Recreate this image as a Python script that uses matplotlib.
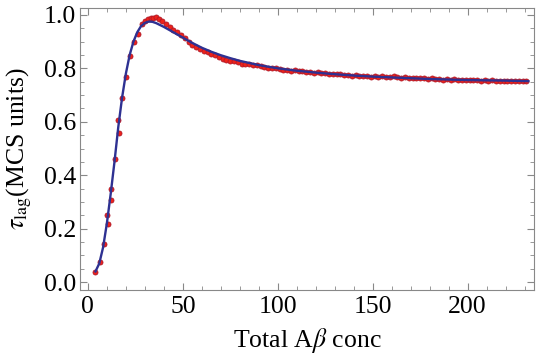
import numpy as np
import matplotlib
matplotlib.use('Agg')
import matplotlib.pyplot as plt
from matplotlib.ticker import MultipleLocator

plt.rcParams['font.family'] = ['Liberation Serif', 'DejaVu Serif']
plt.rcParams['mathtext.fontset'] = 'stix'

# simulation points (red dots)
dot_x_early = [4, 6.5, 8.5, 10, 10.5, 12, 12.2, 14.3, 16, 16.5, 18, 20.3, 22.3,
               24.2, 26.2, 28.3, 30.2, 31.5, 33, 34.5, 36, 37.5, 39]
dot_y_early = [0.037, 0.074, 0.142, 0.25, 0.217, 0.35, 0.307, 0.46, 0.607, 0.558,
               0.688, 0.767, 0.846, 0.90, 0.93, 0.965, 0.978, 0.983, 0.987, 0.99,
               0.993, 0.985, 0.977]
dot_x_late = list(range(41, 232, 2))
dot_y_late = [0.965, 0.956, 0.945, 0.936, 0.925, 0.912, 0.900, 0.889, 0.880, 0.872,
              0.866, 0.860, 0.853, 0.848, 0.842, 0.836, 0.831, 0.829, 0.826, 0.822,
              0.818, 0.818, 0.815, 0.812, 0.811, 0.807, 0.806, 0.803, 0.800, 0.801,
              0.797, 0.794, 0.795, 0.791, 0.793, 0.789, 0.790, 0.786, 0.788, 0.784,
              0.785, 0.781, 0.783, 0.779, 0.780, 0.777, 0.779, 0.775, 0.776, 0.773,
              0.775, 0.771, 0.773, 0.772, 0.769, 0.771, 0.768, 0.770, 0.767, 0.769,
              0.770, 0.766, 0.764, 0.766, 0.763, 0.765, 0.762, 0.763, 0.764, 0.760,
              0.762, 0.759, 0.761, 0.758, 0.760, 0.757, 0.759, 0.756, 0.758, 0.755,
              0.757, 0.755, 0.756, 0.754, 0.756, 0.753, 0.755, 0.753, 0.754, 0.752,
              0.754, 0.753, 0.751, 0.753, 0.751, 0.752]

# fitted curve (blue line)
fit_x = [4, 6, 8, 10, 12, 14, 16, 18, 20, 22, 24, 26, 28, 30, 32, 34, 36, 40, 45,
         50, 55, 60, 65, 70, 75, 80, 90, 100, 110, 120, 130, 140, 150, 160, 170,
         180, 190, 200, 210, 220, 232]
fit_y = [0.04, 0.07, 0.13, 0.22, 0.33, 0.45, 0.58, 0.69, 0.78, 0.85, 0.90, 0.935,
         0.958, 0.970, 0.975, 0.974, 0.969, 0.955, 0.935, 0.915, 0.895, 0.877,
         0.862, 0.849, 0.838, 0.828, 0.812, 0.800, 0.791, 0.784, 0.778, 0.773,
         0.769, 0.766, 0.763, 0.760, 0.758, 0.756, 0.755, 0.754, 0.752]

dot_x = dot_x_early + dot_x_late
dot_y = dot_y_early + dot_y_late

fig = plt.figure(figsize=(5.4, 3.6), dpi=100)
ax = fig.add_axes([0.148, 0.194, 0.841, 0.784])

ax.plot(dot_x, dot_y, 'o', color='#ee2219', markeredgecolor='#b01828',
        markersize=3.6, markeredgewidth=0.6, zorder=2)
ax.plot(fit_x, fit_y, '-', color='#2e3192', lw=1.7, zorder=3)

ax.set_xlim(-4.2, 235)
ax.set_ylim(-0.03, 1.026)
ax.xaxis.set_major_locator(MultipleLocator(50))
ax.xaxis.set_minor_locator(MultipleLocator(10))
ax.yaxis.set_major_locator(MultipleLocator(0.2))
ax.yaxis.set_minor_locator(MultipleLocator(0.05))
ax.yaxis.set_major_formatter(matplotlib.ticker.FormatStrFormatter('%.1f'))

ax.tick_params(which='both', direction='in', top=True, right=True,
               color='#888888', labelsize=18.5)
ax.tick_params(which='major', length=5, width=0.8)
ax.tick_params(which='minor', length=3, width=0.6)
ax.tick_params(axis='x', pad=4)
ax.tick_params(axis='y', pad=3)
for s in ax.spines.values():
    s.set_color('#888888')
    s.set_linewidth(0.8)

ax.set_xlabel(r'Total A$\beta$ conc', fontsize=18.5, labelpad=6)
ax.set_ylabel(r'$\tau_{\rm lag}$(MCS units)', fontsize=18.5, labelpad=7)

fig.savefig('out.png', dpi=100)
